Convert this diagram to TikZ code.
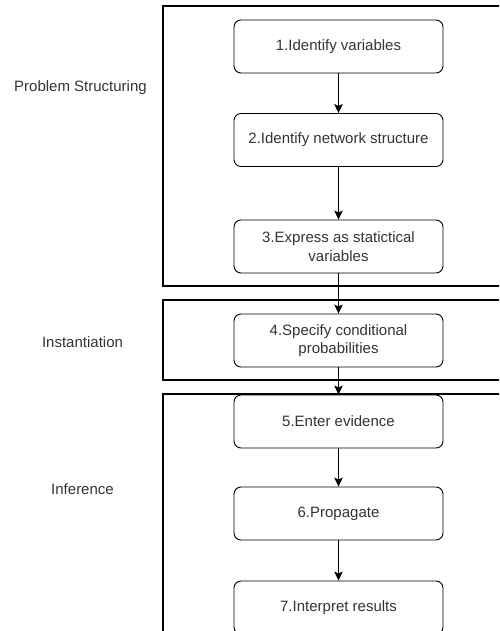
\documentclass[tikz,border=0pt]{standalone}
\usepackage{fontspec}
\setmainfont{Liberation Sans}
\usetikzlibrary{arrows.meta}
\definecolor{txt}{HTML}{333333}
\tikzset{
  stage/.style={draw=black, line width=0.9pt, rounded corners=7pt, minimum width=209pt, minimum height=53pt, align=center, font=\fontsize{15}{18.5}\selectfont, text=txt, inner sep=2pt},
  phase/.style={draw=black, line width=1.1pt},
  phaselabel/.style={font=\fontsize{15}{18.5}\selectfont, text=txt},
  flow/.style={draw=black, line width=0.9pt, -{Stealth[length=9pt,width=8.5pt,inset=2pt]}}
}
\begin{document}
\begin{tikzpicture}[x=1pt,y=-1pt]
\useasboundingbox (0,0) rectangle (499,631);
\clip (0,0) rectangle (499,631);
% phase frames
\draw[phase] (163,6) rectangle (520,286);
\draw[phase] (163,300) rectangle (520,380);
\draw[phase] (163,394) rectangle (520,700);
% phase labels
\node[phaselabel] (ps) at (80.5,88) {Problem Structuring};
\node[phaselabel] (inst) at (82.5,342) {Instantiation};
\node[phaselabel] (inf) at (82.5,489) {Inference};
% stages
\node[stage] (s1) at (338.5,46.5) {1.Identify variables};
\node[stage] (s2) at (338.5,140) {2.Identify network structure};
\node[stage] (s3) at (338.5,246.5) {3.Express as statictical\\variables};
\node[stage] (s4) at (338.5,340.5) {4.Specify conditional\\probabilities};
\node[stage] (s5) at (338.5,421.5) {5.Enter evidence};
\node[stage] (s6) at (338.5,513.5) {6.Propagate};
\node[stage] (s7) at (338.5,607.5) {7.Interpret results};
% connectors
\draw[flow] (s1) -- (s2);
\draw[flow] (s2) -- (s3);
\draw[flow] (s3) -- (s4);
\draw[flow] (s4) -- (s5);
\draw[flow] (s5) -- (s6);
\draw[flow] (s6) -- (s7);
\end{tikzpicture}
\end{document}
